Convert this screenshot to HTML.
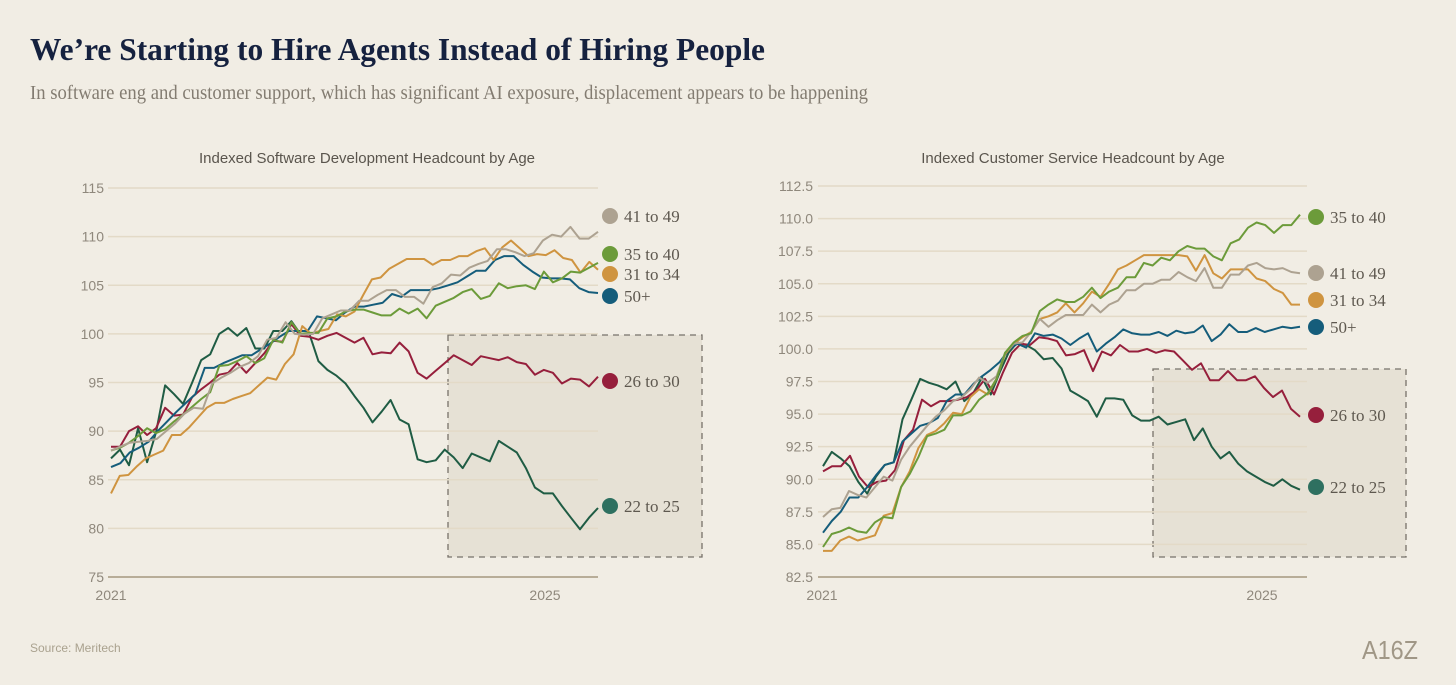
<!DOCTYPE html>
<html><head><meta charset="utf-8">
<style>
html,body{margin:0;padding:0;background:#f1ede4;}
svg{display:block;}
.tick{font-family:"Liberation Sans",sans-serif;font-size:14px;fill:#8f887c;}
.leg{font-family:"Liberation Serif",serif;font-size:17px;fill:#5e584f;}
.ct{font-family:"Liberation Sans",sans-serif;font-size:15px;fill:#5a554d;}
</style></head>
<body>
<svg id="root" width="1456" height="685" viewBox="0 0 1456 685" xmlns="http://www.w3.org/2000/svg">
<rect width="1456" height="685" fill="#f1ede4"/>
<text x="30" y="60" font-family="Liberation Serif,serif" font-weight="bold" font-size="32" fill="#15213f" textLength="735" lengthAdjust="spacingAndGlyphs">We’re Starting to Hire Agents Instead of Hiring People</text>
<text x="30" y="99" font-family="Liberation Serif,serif" font-size="20" fill="#837c71" textLength="838" lengthAdjust="spacingAndGlyphs">In software eng and customer support, which has significant AI exposure, displacement appears to be happening</text>
<text class="ct" x="367" y="163" text-anchor="middle">Indexed Software Development Headcount by Age</text>
<text class="ct" x="1073" y="163" text-anchor="middle">Indexed Customer Service Headcount by Age</text>
<g id="left"></g>
<g id="right"></g>
<text x="30" y="652" font-family="Liberation Sans,sans-serif" font-size="12" fill="#aaa28f">Source: Meritech</text>
<text x="1362" y="659" font-family="Liberation Sans,sans-serif" font-size="26" fill="#a09786" textLength="56" lengthAdjust="spacingAndGlyphs">A16Z</text>
</svg>
<script>
// ---- Left chart data (Software Development) ----
const swTicks = [75, 80, 85, 90, 95, 100, 105, 110, 115];
const swYears = ["2021", "2025"];
const sw2225 = [87.2,88.1,86.5,90.3,86.8,89.9,94.7,93.8,92.8,95.0,97.3,97.9,100.0,100.6,99.8,100.6,98.5,98.5,100.3,100.3,101.3,100.0,100.0,97.2,96.3,95.7,94.9,93.6,92.4,90.9,92.0,93.2,91.2,90.7,87.1,86.8,87.0,88.1,87.3,86.2,87.7,87.3,86.9,89.0,88.4,87.8,86.2,84.2,83.6,83.6,82.3,81.1,79.9,81.1,82.1];
const sw2630 = [88.4,88.4,90.0,90.5,89.6,90.3,92.4,91.6,91.7,93.5,94.3,95.0,95.8,96.0,97.0,96.0,97.0,98.0,99.3,99.2,101.0,99.8,99.7,99.4,99.8,100.1,99.6,99.1,99.6,97.9,98.1,98.0,99.1,98.2,96.0,95.4,96.2,97.0,97.8,97.3,96.8,97.7,97.5,97.3,97.6,97.1,96.9,95.8,96.3,96.0,94.9,95.4,95.3,94.6,95.6];
const sw50 = [86.3,86.7,87.8,88.3,88.9,90.0,91.0,92.0,92.9,93.8,96.5,96.5,97.0,97.4,97.8,97.8,98.4,99.0,99.7,100.3,100.3,100.3,101.8,101.6,101.4,102.2,102.8,102.8,103.0,103.2,104.1,103.8,104.5,104.5,104.5,104.7,105.0,105.3,105.9,106.5,106.5,107.6,108.0,108.0,107.1,106.4,105.8,105.7,105.7,105.6,104.7,104.3,104.2];
const sw3134 = [83.6,85.4,85.5,86.4,87.2,87.6,88.0,89.6,89.6,90.4,91.4,92.4,92.9,92.9,93.3,93.6,93.9,94.7,95.5,95.3,96.9,97.9,100.8,100.0,100.3,100.5,102.0,101.8,102.3,104.0,105.6,105.8,106.7,107.2,107.7,107.7,107.7,107.1,107.6,107.6,108.0,108.0,108.5,108.8,107.6,108.9,109.6,108.8,108.0,108.2,108.1,108.6,107.8,107.6,106.3,107.4,106.6];
const sw4149 = [88.0,88.4,88.8,88.9,89.0,89.2,90.0,90.8,91.8,92.4,92.3,94.9,95.5,96.0,96.6,97.0,97.7,99.4,99.6,101.2,100.0,99.9,100.0,101.6,102.0,102.4,102.4,103.4,103.4,104.0,104.5,104.5,103.8,103.8,103.1,104.8,105.2,106.1,106.0,106.8,107.2,107.5,108.7,108.7,108.4,108.0,108.3,109.6,110.2,110.0,111.0,109.8,109.8,110.5];
const sw3540 = [88.0,88.3,88.8,89.5,90.3,89.8,90.2,91.0,91.7,92.5,93.3,94.0,96.7,96.8,97.2,97.7,97.0,97.5,99.4,99.1,101.2,100.0,100.1,100.1,101.6,101.8,102.3,102.5,102.5,102.2,101.9,101.9,102.6,102.1,102.6,101.6,102.9,103.3,103.7,104.3,104.6,103.6,103.9,105.2,104.7,104.9,105.0,104.6,106.4,105.3,105.7,106.4,106.3,106.8,107.3];

// ---- Right chart data (Customer Service) ----
const csTicks = [82.5, 85.0, 87.5, 90.0, 92.5, 95.0, 97.5, 100.0, 102.5, 105.0, 107.5, 110.0, 112.5];
const csYears = ["2021", "2025"];
const cs2225 = [91.0,92.1,91.6,91.0,89.8,88.9,90.2,91.1,91.3,94.6,96.1,97.7,97.4,97.2,96.9,97.5,96.0,96.6,97.8,96.5,98.2,99.7,100.5,100.3,99.9,99.2,99.3,98.5,96.8,96.4,96.0,94.8,96.2,96.2,96.1,94.9,94.5,94.5,94.8,94.2,94.4,94.6,93.0,93.9,92.5,91.6,92.1,91.2,90.6,90.2,89.8,89.5,90.0,89.5,89.2];
const cs2630 = [90.6,91.0,91.0,91.8,90.2,89.4,89.8,89.9,90.7,93.0,93.8,96.1,95.6,96.0,96.0,96.1,96.3,96.8,97.7,96.5,98.2,99.7,100.4,100.3,100.9,100.8,100.6,99.5,99.6,99.9,98.3,99.8,99.5,100.3,99.8,99.8,100.0,99.7,99.9,99.8,99.1,98.4,98.9,97.6,97.6,98.3,97.6,97.6,97.9,97.0,96.3,96.8,95.4,94.8];
const cs50 = [85.9,86.8,87.5,88.6,88.6,89.4,90.3,91.1,91.3,92.9,93.5,94.1,94.3,94.7,96.0,96.5,96.5,97.3,97.9,98.4,99.0,99.9,100.4,100.1,101.2,101.0,101.1,100.8,100.3,100.8,101.2,99.8,100.4,100.9,101.5,101.2,101.1,101.1,101.3,101.0,101.4,101.2,101.3,101.8,100.6,101.1,101.9,101.3,101.3,101.6,101.3,101.5,101.7,101.6,101.7];
const cs3540 = [84.8,85.8,86.0,86.3,86.0,85.9,86.7,87.1,87.0,89.4,90.4,91.7,93.3,93.5,93.8,94.9,94.9,95.2,96.1,96.6,97.7,99.7,100.5,101.0,101.2,102.9,103.4,103.8,103.6,103.6,104.0,104.7,103.9,104.4,104.7,105.5,105.5,106.6,106.4,107.0,106.8,107.5,107.9,107.7,107.7,107.1,106.8,108.1,108.4,109.3,109.7,109.5,108.9,109.5,109.5,110.3];
const cs3134 = [84.5,84.5,85.3,85.6,85.3,85.5,85.7,87.2,87.4,89.4,90.6,92.4,93.4,93.7,94.3,95.1,95.0,96.3,96.9,96.5,97.7,99.6,100.4,100.9,101.3,102.3,102.5,102.8,103.5,102.8,103.5,104.4,104.0,105.0,106.1,106.4,106.8,107.2,107.2,107.2,107.2,107.2,107.1,106.0,107.2,105.8,105.4,106.1,106.1,106.1,105.4,105.2,104.6,104.3,103.4,103.4];
const cs4149 = [87.1,87.7,87.8,89.1,88.8,88.6,89.4,90.2,89.9,91.5,92.5,93.3,94.1,94.8,95.3,96.0,96.3,96.9,97.8,97.4,97.9,99.7,100.4,100.5,101.3,102.3,101.7,102.2,102.6,102.6,102.6,103.4,102.8,103.4,103.7,104.5,104.5,105.0,105.0,105.3,105.3,105.9,105.5,105.2,106.2,104.7,104.7,105.7,105.7,106.4,106.6,106.2,106.1,106.2,105.9,105.8];

const NS = "http://www.w3.org/2000/svg";
function mk(tag, attrs, parent){const e=document.createElementNS(NS,tag);for(const k in attrs)e.setAttribute(k,attrs[k]);parent.appendChild(e);return e;}

function drawChart(g, cfg){
  const yScale = v => cfg.yTop + (cfg.yMax - v) / (cfg.yMax - cfg.yMin) * (cfg.yBot - cfg.yTop);
  // highlight box
  const box = mk("rect",{x:cfg.box[0],y:cfg.box[1],width:cfg.box[2],height:cfg.box[3],fill:"#e6e1d5",stroke:"#77726a","stroke-width":1.3,"stroke-dasharray":"6,5"},g);
  
  
  cfg.ticks.forEach((t,i)=>{
    const y = yScale(t);
    const ln = mk("line",{x1:cfg.gx0,x2:cfg.gx1,y1:y,y2:y,stroke:i===0?"#b8ad98":"#e3dac7","stroke-width":i===0?2:1.5},g);
    
    
    const tx = mk("text",{x:cfg.labelX,y:y+5,"text-anchor":"end",class:"tick"},g);
    tx.textContent = cfg.fmt(t);
    
    
  });
  cfg.years.forEach((yr,i)=>{
    const tx = mk("text",{x:cfg.yearX[i],y:cfg.yBot+23,"text-anchor":"middle",class:"tick","font-size":15},g);
    tx.textContent = yr;
    
    
  });
  cfg.series.forEach(s=>{
    const n = s.data.length;
    const pts = s.data.map((v,i)=>{
      const x = cfg.x0 + i*(cfg.x1-cfg.x0)/(n-1);
      return x.toFixed(1)+","+yScale(v).toFixed(1);
    }).join(" ");
    const pl = mk("polyline",{points:pts,fill:"none",stroke:s.color,"stroke-width":2,"stroke-linejoin":"round"},g);
    
    
  });
  cfg.series.forEach(s=>{
    const c = mk("circle",{cx:cfg.legX,cy:s.ly,r:8,fill:s.dot||s.color},g);
    
    
    const tx = mk("text",{x:cfg.legX+14,y:s.ly+6,class:"leg"},g);
    tx.textContent = s.label;
    
    
  });
}

const C = {dg:"#1f5c44", red:"#961f3c", blue:"#155d7b", org:"#cf9440", gray:"#ada291", grn:"#6c9b3a"};

drawChart(document.getElementById("left"),{
  yMin:75,yMax:115,yTop:188,yBot:577,gx0:108,gx1:598,x0:111,x1:598,labelX:104,
  ticks:swTicks,fmt:t=>String(t),years:swYears,yearX:[111,545],
  box:[448,335,254,222],legX:610,
  series:[
    {name:"22-25",label:"22 to 25",data:sw2225,color:C.dg,dot:"#2e7060",ly:506},
    {name:"26-30",label:"26 to 30",data:sw2630,color:C.red,ly:381},
    {name:"50-plus",label:"50+",data:sw50,color:C.blue,ly:296},
    {name:"31-34",label:"31 to 34",data:sw3134,color:C.org,ly:274},
    {name:"35-40",label:"35 to 40",data:sw3540,color:C.grn,ly:254},
    {name:"41-49",label:"41 to 49",data:sw4149,color:C.gray,ly:216}
  ]
});

drawChart(document.getElementById("right"),{
  yMin:82.5,yMax:112.5,yTop:186,yBot:577,gx0:818,gx1:1307,x0:823,x1:1300,labelX:813,
  ticks:csTicks,fmt:t=>t.toFixed(1),years:csYears,yearX:[822,1262],
  box:[1153,369,253,188],legX:1316,
  series:[
    {name:"22-25",label:"22 to 25",data:cs2225,color:C.dg,dot:"#2e7060",ly:487},
    {name:"26-30",label:"26 to 30",data:cs2630,color:C.red,ly:415},
    {name:"50-plus",label:"50+",data:cs50,color:C.blue,ly:327},
    {name:"31-34",label:"31 to 34",data:cs3134,color:C.org,ly:300},
    {name:"41-49",label:"41 to 49",data:cs4149,color:C.gray,ly:273},
    {name:"35-40",label:"35 to 40",data:cs3540,color:C.grn,ly:217}
  ]
});
</script>
</body></html>
